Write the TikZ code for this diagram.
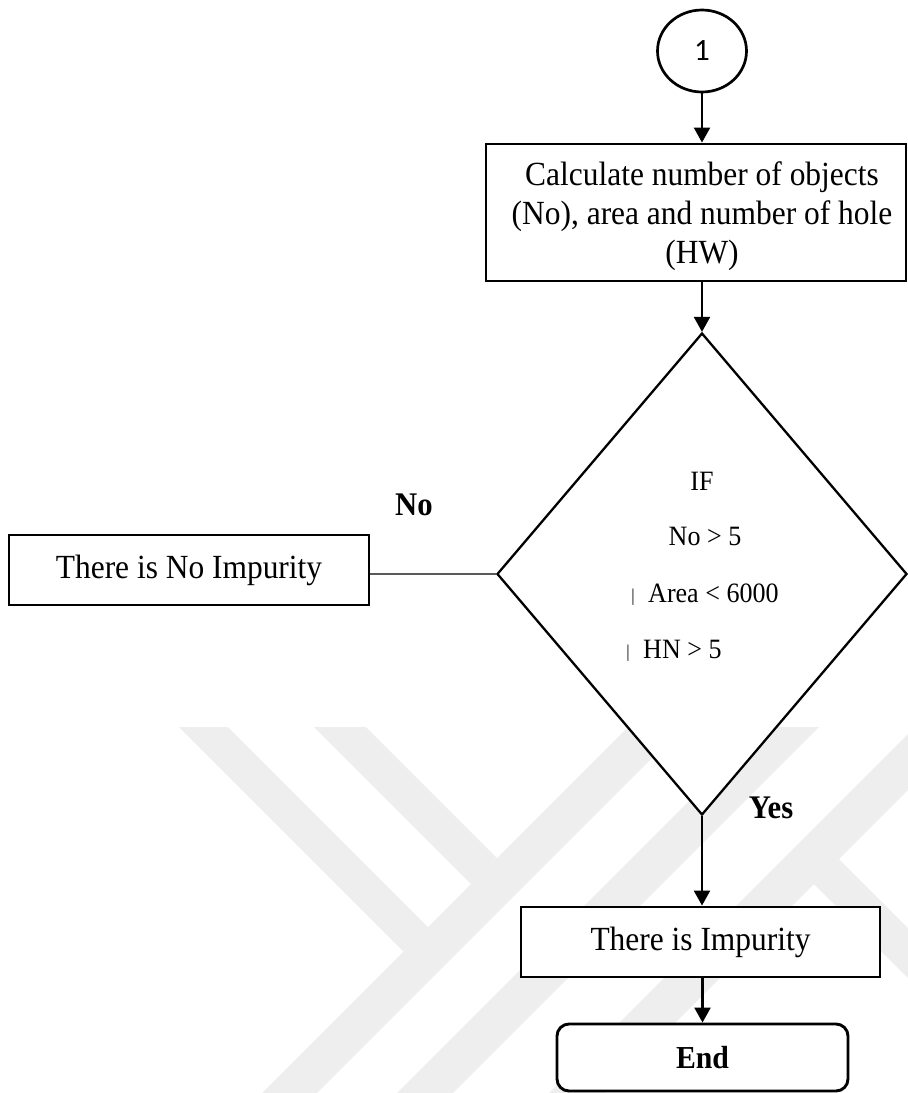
\documentclass[tikz,border=0pt]{standalone}
\usepackage{fontspec}
\setmainfont{Liberation Serif}[FakeStretch=0.93]
\newfontfamily\digitfont{Carlito}
\usetikzlibrary{shapes.geometric,arrows.meta}
\definecolor{markgray}{HTML}{EEEEEE}
\definecolor{linkgray}{HTML}{595959}
\begin{document}
\begin{tikzpicture}[x=1pt,y=-1pt,
  box/.style={draw, line width=2.9pt, fill=white, inner sep=0pt},
  arr/.style={line width=2.3pt, -{Triangle[width=16pt,length=15pt]}},
  big/.style={font=\fontsize{33.8}{39}\selectfont},
  small/.style={font=\fontsize{28}{30}\selectfont},
  bar/.style={font=\fontsize{18}{20}\selectfont, anchor=base, inner sep=0pt},
  lbl/.style={font=\fontsize{33}{34}\selectfont\bfseries, anchor=base, inner sep=0pt},
  band/.style={fill=markgray, draw=none}]
\useasboundingbox (0,0) rectangle (908,1093);

% faint background emblem
\begin{scope}
  \clip (0,0) rectangle (908,1093);
  \fill[band] (179,727) -- (228,727) -- (428,927) -- (403.5,951.5) -- cycle;
  \fill[band] (314,727) -- (366,727) -- (497,858) -- (471,884) -- cycle;
  \fill[band] (628,727) -- (683,727) -- (317,1093) -- (262,1093) -- cycle;
  \fill[band] (763,727) -- (819,727) -- (453,1093) -- (397,1093) -- cycle;
  \fill[band] (915,727) -- (971,727) -- (605,1093) -- (549,1093) -- cycle;
  \fill[band] (814,884) -- (839,859) -- (1200,1220) -- (1150,1220) -- cycle;
\end{scope}

% connector symbol
\node[ellipse, draw, line width=2.7pt, fill=white, minimum width=89pt,
      minimum height=82pt, inner sep=0pt,
      font=\digitfont\fontsize{31}{32}\selectfont] (one) at (702,51) {1};

% measurement step
\node[box, minimum width=420pt, minimum height=137pt] (calc) at (696,212.5) {};
\node[big, align=center, inner sep=0pt] (calctext) at (702,216)
  {Calculate number of objects\\(No), area and number of hole\\(HW)};

% decision
\node[diamond, draw, line width=2.3pt, fill=white, minimum width=410pt,
      minimum height=482pt, inner sep=0pt] (dec) at (702,574) {};
\node[small, anchor=base, inner sep=0pt] (cif) at (702,490) {IF};
\node[small, anchor=base, inner sep=0pt] (cno) at (705,545) {No > 5};
\node[bar] (bara) at (633,601) {|};
\node[small, anchor=base west, inner sep=0pt] (carea) at (648,602) {Area < 6000};
\node[bar] (barh) at (628,657) {|};
\node[small, anchor=base west, inner sep=0pt] (chn) at (643,658) {HN > 5};

% outcomes
\node[box, big, minimum width=360pt, minimum height=70pt] (noimp) at (189,570)
  {There is No Impurity};
\node[box, big, minimum width=359pt, minimum height=70pt] (imp) at (700.5,942)
  {There is Impurity};
\node[box, rounded corners=12pt, minimum width=291pt, minimum height=67pt,
      font=\fontsize{32}{33}\selectfont\bfseries] (end) at (702.5,1057.5) {End};

% branch labels
\node[lbl] (nolbl) at (414,515) {No};
\node[lbl] (yeslbl) at (771,818) {Yes};

% connectors
\draw[arr] (one.south) -- (one.south |- calc.north);
\draw[arr] (calc.south -| dec.north) -- (dec.north);
\draw[linkgray, line width=1.4pt] (dec.west) -- (dec.west -| noimp.east);
\draw[arr] (dec.south) -- (dec.south |- imp.north);
\draw[arr] (imp.south -| end.north) -- (end.north);
\end{tikzpicture}
\end{document}
